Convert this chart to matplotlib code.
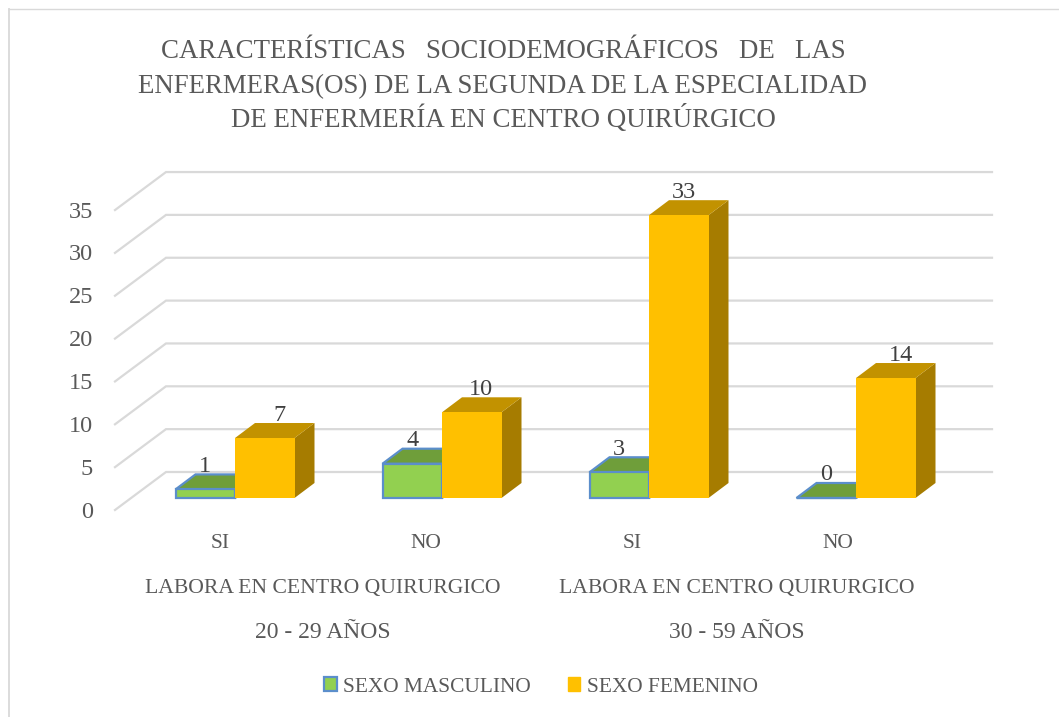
import matplotlib
matplotlib.use("Agg")
import matplotlib.pyplot as plt
from matplotlib.patches import Polygon, Patch

title_lines = ["CARACTERÍSTICAS   SOCIODEMOGRÁFICOS   DE   LAS",
               "ENFERMERAS(OS) DE LA SEGUNDA DE LA ESPECIALIDAD",
               "DE ENFERMERÍA EN CENTRO QUIRÚRGICO"]
categories = ["SI", "NO", "SI", "NO"]
work_labels = ["LABORA EN CENTRO QUIRURGICO", "LABORA EN CENTRO QUIRURGICO"]
age_labels = ["20 - 29 AÑOS", "30 - 59 AÑOS"]
series_names = ["SEXO MASCULINO", "SEXO FEMENINO"]
masculino = [1, 4, 3, 0]
femenino = [7, 10, 33, 14]
y_ticks = [0, 5, 10, 15, 20, 25, 30, 35]

plt.rcParams['font.family'] = ['Liberation Serif', 'DejaVu Serif']
TEXT = "#595959"
DARK = "#404040"
GRID = "#d9d9d9"

W, H = 1059, 717
fig = plt.figure(figsize=(W / 100, H / 100), dpi=100)
ax = fig.add_axes([0, 0, 1, 1])

# scale of the chart: one category = 207 px, one unit = 8.57 px
CAT = 207.0
UNIT = 8.57
X0 = 235.0
Y0 = 498.0
ax.set_xlim(-X0 / CAT, (W - X0) / CAT)
ax.set_ylim(-(H - Y0) / UNIT, Y0 / UNIT)
ax.axis("off")

def dx(px):
    return px / CAT

def dy(px):
    return px / UNIT

# chart border, only left and top show in the picture
ax.plot([dx(8.5 - X0), dx(8.5 - X0)], [dy(Y0 - H), dy(Y0 - 9)], color=GRID, lw=1.3)
ax.plot([dx(8.5 - X0), dx(W - X0)], [dy(Y0 - 9), dy(Y0 - 9)], color=GRID, lw=1.0)

# 3d walls
back_x0, back_x1 = dx(166 - X0), dx(992 - X0)
front_x = dx(115 - X0)
floor_back = dy(Y0 - 472)
floor_front = dy(Y0 - 510)
for v in y_ticks:
    ax.plot([front_x, back_x0, back_x1],
            [floor_front + v, floor_back + v, floor_back + v],
            color=GRID, lw=1.6, solid_joinstyle="miter", zorder=1)
    ax.text(dx(93 - X0), floor_front + v - dy(2), str(v), ha="right", va="center",
            fontsize=17.5, color=TEXT)

bar_w = dx(59.5)
depth_x = dx(20)
depth_y = dy(15)

def draw_box(left, val, face, top, side, edge=None, z=3):
    right = left + bar_w
    lw = 1.6 if edge else 0
    ax.add_patch(Polygon([(right, 0), (right + depth_x, depth_y),
                          (right + depth_x, val + depth_y), (right, val)],
                         closed=True, fc=side, ec=edge or side, lw=lw, zorder=z))
    ax.add_patch(Polygon([(left, val), (left + depth_x, val + depth_y),
                          (right + depth_x, val + depth_y), (right, val)],
                         closed=True, fc=top, ec=edge or top, lw=lw, zorder=z))
    ax.bar(left, val, width=bar_w, bottom=0, align="edge", color=face,
           edgecolor=edge or face, linewidth=lw, zorder=z)

orange_nudge = [15, 9, 5, 15]
for i in range(4):
    draw_box(i - bar_w, masculino[i], "#92d050", "#6f9e3a", "#57822c", edge="#5b8ecb", z=3 + i)
    draw_box(i, femenino[i], "#ffc000", "#c29200", "#a67c00", z=3.5 + i)
    ax.text(i - bar_w / 2, masculino[i] + dy(23), str(masculino[i]), ha="center", va="center",
            fontsize=17.5, color=DARK, zorder=20)
    ax.text(i + bar_w / 2 + dx(orange_nudge[i]), femenino[i] + dy(23), str(femenino[i]),
            ha="center", va="center", fontsize=17.5, color=DARK, zorder=20)
    ax.text(i + dx(-15 - i), dy(Y0 - 543), categories[i], ha="center", va="center",
            fontsize=15.5, color=TEXT)

for j in range(2):
    mid = 2 * j + 0.5 + dx(-16)
    ax.text(mid, dy(Y0 - 588), work_labels[j], ha="center", va="center", fontsize=15.6, color=TEXT)
    ax.text(mid, dy(Y0 - 633), age_labels[j], ha="center", va="center", fontsize=17, color=TEXT)

title_base = [58, 93, 127]
for line, py in zip(title_lines, title_base):
    ax.text(dx(503 - X0), dy(Y0 - py), line, ha="center", va="baseline", fontsize=19.4, color=TEXT)

handles = [Patch(fc="#92d050", ec="#5b8ecb", lw=1.6), Patch(fc="#ffc000", ec="#ffc000")]
ax.legend(handles, series_names, ncol=2, frameon=False, loc="center",
          bbox_to_anchor=(541 / W, 1 - 687 / H), fontsize=15.4, labelcolor=TEXT,
          handlelength=0.6, handleheight=0.6, handletextpad=0.3, columnspacing=1.7)

fig.savefig("out.png", dpi=100)
